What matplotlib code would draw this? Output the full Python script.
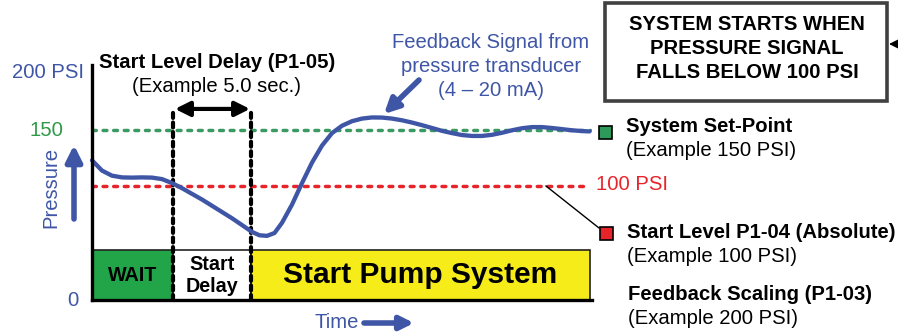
import numpy as np
import matplotlib.pyplot as plt

plt.rcParams['font.family'] = ['Liberation Sans', 'DejaVu Sans']

BLUE = '#3f56a6'
GREEN_TXT = '#2e9a48'
GREEN_LINE = '#3a9a62'
RED = '#e8242b'

# feedback signal (time in % of axis, pressure in PSI)
time_pts = [0, 2, 4, 6, 8, 10, 12, 14, 16, 18, 20, 22, 24, 26, 28, 30, 32, 33.5, 35,
            36.5, 38, 40, 42, 44, 46, 48, 50, 52, 54, 56, 58, 60, 62, 64, 66, 68, 70,
            72, 74, 76, 78, 80, 82, 84, 86, 88, 90, 92, 94, 96, 98, 99.5]
pressure_pts = [123, 114, 109.5, 108, 107.8, 108, 107.8, 106.5, 103, 98.5, 93.5, 88.5, 83,
                77.5, 72, 66, 60, 57, 56.5, 59, 68, 84, 103, 121, 136, 147, 153.5, 157.5,
                159.8, 160.8, 160.7, 159.8, 158.3, 156.3, 154, 151.5, 149, 147, 145.3,
                144.5, 144.5, 145.5, 147.3, 149.5, 151.3, 152.3, 152.3, 151.5, 150.5,
                149.5, 148.8, 148.5]

setpoint = 150
start_level = 100

phase_labels = ['WAIT', 'Start\nDelay', 'Start Pump System']
phase_start = [0, 16.2, 31.8]
phase_width = [16.2, 15.6, 67.8]
phase_colors = ['#22a548', '#ffffff', '#f5ec1a']
phase_fontsize = [14.2, 14.2, 21.5]
phase_height = 44

fig = plt.figure(figsize=(8.98, 3.35), dpi=100)
W, H = 898, 335

# data axes: x 0..100 -> px 92..592, y 0..207 -> px 300..65
ax = fig.add_axes([92 / W, (H - 300) / H, 500 / W, 235 / H])
ax.set_xlim(0, 100)
ax.set_ylim(0, 207)
ax.patch.set_alpha(0)
for s in ['top', 'right']:
    ax.spines[s].set_visible(False)
for s in ['left', 'bottom']:
    ax.spines[s].set_linewidth(2.4)
    ax.spines[s].set_zorder(6)
ax.set_xticks([])
ax.set_yticks([])

ax.bar(phase_start, phase_height, width=phase_width, align='edge',
       color=phase_colors, edgecolor='#222222', linewidth=1.2, zorder=2)
for lab, x0, w, fs in zip(phase_labels, phase_start, phase_width, phase_fontsize):
    ax.text(x0 + w / 2, 22, lab, ha='center', va='center', fontsize=fs,
            fontweight='bold', color='black', linespacing=1.2, zorder=3)

ax.plot([0, 99.6], [setpoint, setpoint], color=GREEN_LINE, lw=2.5,
        dashes=(1.1, 1.95), dash_capstyle='round', zorder=3)
ax.plot([0, 99.3], [start_level, start_level], color=RED, lw=2.5,
        dashes=(1.1, 1.95), dash_capstyle='round', zorder=3)

for xv in phase_start[1:]:
    ax.plot([xv, xv], [0, 165.5], color='black', lw=3.0, dashes=(1.2, 1.1),
            dash_capstyle='round', zorder=4)
ax.annotate('', xy=(16.6, 168.3), xytext=(31.6, 168.3),
            arrowprops=dict(arrowstyle='<|-|>', color='black', lw=3,
                            mutation_scale=22, shrinkA=0, shrinkB=0), zorder=5)

ax.plot(time_pts, pressure_pts, color=BLUE, lw=3.1, solid_capstyle='round', zorder=5,
        clip_on=False)

# overlay in pixel coordinates for the annotations
ov = fig.add_axes([0, 0, 1, 1])
ov.set_xlim(0, W)
ov.set_ylim(H, 0)
ov.axis('off')

FS = 14.6
ov.text(84, 72, '200 PSI', ha='right', va='center', fontsize=FS, color=BLUE)
ov.text(63, 130, '150', ha='right', va='center', fontsize=FS, color=GREEN_TXT)
ov.text(78, 300, '0', ha='right', va='center', fontsize=FS, color=BLUE)
ov.text(51, 187, 'Pressure', ha='center', va='center', fontsize=FS, color=BLUE,
        rotation=90)
ov.annotate('', xy=(74, 145), xytext=(74, 219),
            arrowprops=dict(arrowstyle='-|>', color=BLUE, lw=4, mutation_scale=24,
                            shrinkA=0, shrinkB=0))

ov.text(217, 62, 'Start Level Delay (P1-05)', ha='center', va='center', fontsize=FS,
        fontweight='bold')
ov.text(217, 86, '(Example 5.0 sec.)', ha='center', va='center', fontsize=FS)

ov.text(491, 42, 'Feedback Signal from', ha='center', va='center', fontsize=FS, color=BLUE)
ov.text(491, 66, 'pressure transducer', ha='center', va='center', fontsize=FS, color=BLUE)
ov.text(491, 90, '(4 \u2013 20 mA)', ha='center', va='center', fontsize=FS, color=BLUE)
ov.annotate('', xy=(384, 114), xytext=(419, 80),
            arrowprops=dict(arrowstyle='-|>', color=BLUE, lw=4, mutation_scale=22,
                            shrinkA=0, shrinkB=0))

ov.add_patch(plt.Rectangle((605, 3), 282, 98, facecolor='white', edgecolor='#404040',
                           lw=2.6))
for i, line in enumerate(['SYSTEM STARTS WHEN', 'PRESSURE SIGNAL', 'FALLS BELOW 100 PSI']):
    ov.text(747, 25 + 23.5 * i, line, ha='center', va='center', fontsize=FS,
            fontweight='bold')
ov.annotate('', xy=(889, 44), xytext=(905, 44),
            arrowprops=dict(arrowstyle='-|>', color='black', lw=1.2, mutation_scale=16,
                            shrinkA=0, shrinkB=0), annotation_clip=False)

ov.add_patch(plt.Rectangle((598.5, 126), 13, 13, facecolor='#2e9a5a', edgecolor='black',
                           lw=1.2))
ov.text(626, 127, 'System Set-Point', ha='left', va='center', fontsize=FS,
        fontweight='bold')
ov.text(626, 151, '(Example 150 PSI)', ha='left', va='center', fontsize=FS)

ov.text(596, 184, '100 PSI', ha='left', va='center', fontsize=FS, color=RED)
ov.plot([546, 599], [186, 228], color='black', lw=1.0)
ov.add_patch(plt.Rectangle((600, 227), 12.5, 13, facecolor=RED, edgecolor='black',
                           lw=1.2))
ov.text(627, 233, 'Start Level P1-04 (Absolute)', ha='left', va='center', fontsize=FS,
        fontweight='bold')
ov.text(627, 257, '(Example 100 PSI)', ha='left', va='center', fontsize=FS)

ov.text(628, 295, 'Feedback Scaling (P1-03)', ha='left', va='center', fontsize=FS,
        fontweight='bold')
ov.text(628, 319, '(Example 200 PSI)', ha='left', va='center', fontsize=FS)

ov.text(337, 322, 'Time', ha='center', va='center', fontsize=FS, color=BLUE)
ov.annotate('', xy=(414, 323), xytext=(364, 323),
            arrowprops=dict(arrowstyle='-|>', color=BLUE, lw=4, mutation_scale=20,
                            shrinkA=0, shrinkB=0))

fig.savefig('out.png', dpi=100)
